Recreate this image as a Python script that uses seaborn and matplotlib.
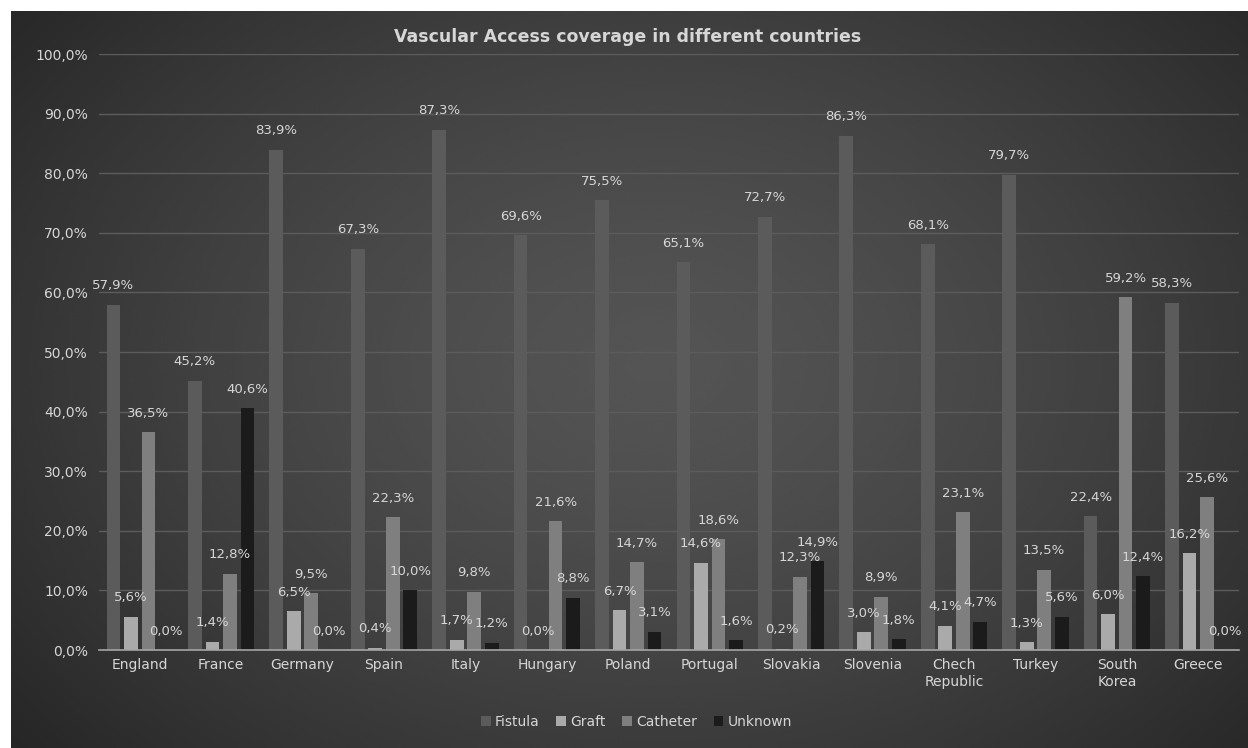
import numpy as np
import pandas as pd
import matplotlib
matplotlib.use("Agg")
import matplotlib.pyplot as plt
from matplotlib.ticker import FuncFormatter
from matplotlib.patches import Patch
import seaborn as sns

countries = ["England", "France", "Germany", "Spain", "Italy", "Hungary", "Poland",
             "Portugal", "Slovakia", "Slovenia", "Chech\nRepublic", "Turkey",
             "South\nKorea", "Greece"]
access_types = ["Fistula", "Graft", "Catheter", "Unknown"]
fistula = [57.9, 45.2, 83.9, 67.3, 87.3, 69.6, 75.5, 65.1, 72.7, 86.3, 68.1, 79.7, 22.4, 58.3]
graft = [5.6, 1.4, 6.5, 0.4, 1.7, 0.0, 6.7, 14.6, 0.2, 3.0, 4.1, 1.3, 6.0, 16.2]
catheter = [36.5, 12.8, 9.5, 22.3, 9.8, 21.6, 14.7, 18.6, 12.3, 8.9, 23.1, 13.5, 59.2, 25.6]
unknown = [0.0, 40.6, 0.0, 10.0, 1.2, 8.8, 3.1, 1.6, 14.9, 1.8, 4.7, 5.6, 12.4, 0.0]
y_ticks = [0, 10, 20, 30, 40, 50, 60, 70, 80, 90, 100]

series = dict(zip(access_types, [fistula, graft, catheter, unknown]))
df = pd.DataFrame([
    {"Country": c, "Type": t, "Share": v}
    for t in access_types for c, v in zip(countries, series[t])
])

colors = {"Fistula": "#5b5b5b", "Graft": "#aaaaaa", "Catheter": "#7f7f7f", "Unknown": "#1b1b1b"}
text_col = "#d6d6d6"

sns.set_theme(style="dark")
plt.rcParams["font.family"] = ["DejaVu Sans"]

W, H = 1248, 748
fig = plt.figure(figsize=(W / 100, H / 100), dpi=100, facecolor="white")

# dark radial gradient background, inset by a thin white margin at top/left
bg = fig.add_axes([11 / W, 0, 1 - 11 / W, 1 - 11 / H], zorder=0)
yy, xx = np.mgrid[0:1:300j, 0:1:500j]
r = np.sqrt(((xx - 0.52) / 0.62) ** 2 + ((yy - 0.48) / 0.75) ** 2)
shade = np.clip(0.33 - 0.16 * r ** 1.4, 0.14, 0.35)
bg.imshow(shade, cmap="gray", vmin=0, vmax=1, aspect="auto", extent=[0, 1, 0, 1],
          interpolation="bicubic")
bg.set_axis_off()

ax = fig.add_axes([99 / W, 98 / H, (1239 - 99) / W, (650 - 54) / H], zorder=1)
ax.patch.set_alpha(0)

sns.barplot(data=df, x="Country", y="Share", hue="Type", hue_order=access_types,
            palette=colors, width=0.86, gap=0.22, saturation=1, ax=ax,
            legend=False, edgecolor="none")

for container, t in zip(ax.containers, access_types):
    labels = [f"{v:.1f}%".replace(".", ",") for v in series[t]]
    ax.bar_label(container, labels=labels, padding=9, color=text_col, fontsize=9.5)

ax.set_ylim(0, 100)
ax.set_xlim(-0.5, len(countries) - 0.5)
ax.set_yticks(y_ticks)
ax.yaxis.set_major_formatter(FuncFormatter(lambda v, p: f"{v:.1f}%".replace(".", ",")))
ax.grid(axis="y", color="#5c5c5c", linewidth=1)
ax.grid(axis="x", visible=False)
ax.set_axisbelow(True)
for side in ["top", "right", "left"]:
    ax.spines[side].set_visible(False)
ax.spines["bottom"].set_color("#a5a5a5")
ax.spines["bottom"].set_linewidth(1.2)
ax.tick_params(axis="both", length=0, colors=text_col, labelsize=10)
ax.tick_params(axis="y", pad=8)
ax.tick_params(axis="x", pad=6)
ax.set_xlabel("")
ax.set_ylabel("")

fig.text(0.503, 1 - 37 / H, "Vascular Access coverage in different countries",
         ha="center", va="center", color=text_col, fontsize=12.5, fontweight="bold")

handles = [Patch(facecolor=colors[t], edgecolor="none", label=t) for t in access_types]
leg = fig.legend(handles=handles, loc="center", bbox_to_anchor=(0.51, 1 - 722 / H),
                 ncol=4, frameon=False, fontsize=10, handlelength=0.7, handleheight=0.7,
                 handletextpad=0.3, columnspacing=1.2)
for txt in leg.get_texts():
    txt.set_color(text_col)

fig.savefig("out.png", dpi=100, facecolor="white")
